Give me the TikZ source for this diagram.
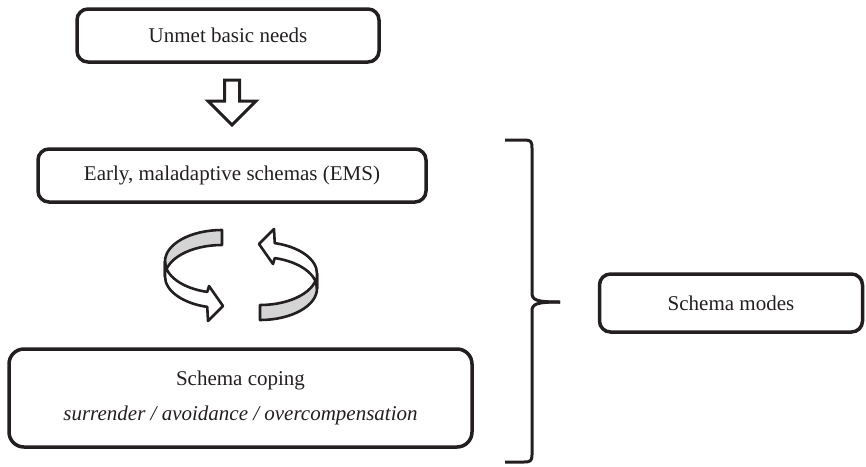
\documentclass[tikz,border=0pt]{standalone}
\usepackage{fontspec}
\setmainfont{Liberation Serif}
\definecolor{ink}{HTML}{231F20}
\definecolor{ribbon}{HTML}{D4D4D4}
\tikzset{
  box/.style={draw=ink, line width=3.5pt, rounded corners=11pt, align=center,
    font=\fontsize{21}{25}\selectfont, text=ink, inner sep=0pt},
  cyc/.style={draw=ink, line width=2.6pt, line join=round},
  hollow/.style={draw=ink, line width=3pt, line join=miter, fill=white},
  bracestyle/.style={draw=ink, line width=3pt, line cap=butt}
}
\begin{document}
\begin{tikzpicture}[x=1pt,y=-1pt]
\useasboundingbox (0,0) rectangle (866,466);
% boxes
\node[box, minimum width=302pt, minimum height=53pt] (unmet) at (228,35.5) {Unmet basic needs};
\node[box, minimum width=388pt, minimum height=53pt] (ems) at (232,175.5) {Early, maladaptive schemas (EMS)};
\node[box, rounded corners=15pt, minimum width=463pt, minimum height=98pt] (coping) at (240.5,398)
  {Schema coping\\[10pt]\textit{surrender / avoidance / overcompensation}};
\node[box, minimum width=263pt, minimum height=58pt] (modes) at (731,303) {Schema modes};
% hollow down arrow
\draw[hollow] (224.5,80) -- (239.5,80) -- (239.5,101) -- (256,101) -- (232,125)
  -- (208,101) -- (224.5,101) -- cycle;
% circular arrows
\foreach \rot in {0,180}{
\begin{scope}[rotate around={\rot:(241,275)}]
  \draw[cyc, fill=ribbon] (222,230) arc[start angle=-90, end angle=-180, x radius=57, y radius=31.5]
    -- (165,276.5) arc[start angle=180, end angle=270, x radius=57, y radius=31.5] -- cycle;
  \draw[cyc, fill=white] (165,261.5) arc[start angle=180, end angle=105, x radius=57, y radius=31.5]
    -- (209,286) -- (223,306) -- (208,321) -- (207.25,306.9)
    arc[start angle=105, end angle=180, x radius=57, y radius=31.5] -- cycle;
\end{scope}}
% brace
\coordinate (btop) at (505,140);
\coordinate (btip) at (560,302);
\coordinate (bbot) at (505,462);
\draw[bracestyle] (btop) -- (525,140) .. controls (531,140) and (532,142) .. (532,148)
  -- (532,293) .. controls (532,300) and (536,302) .. (btip);
\draw[bracestyle] (btip) .. controls (536,302) and (532,304) .. (532,311)
  -- (532,455) .. controls (532,461) and (530,462) .. (524,462) -- (bbot);
\end{tikzpicture}
\end{document}
